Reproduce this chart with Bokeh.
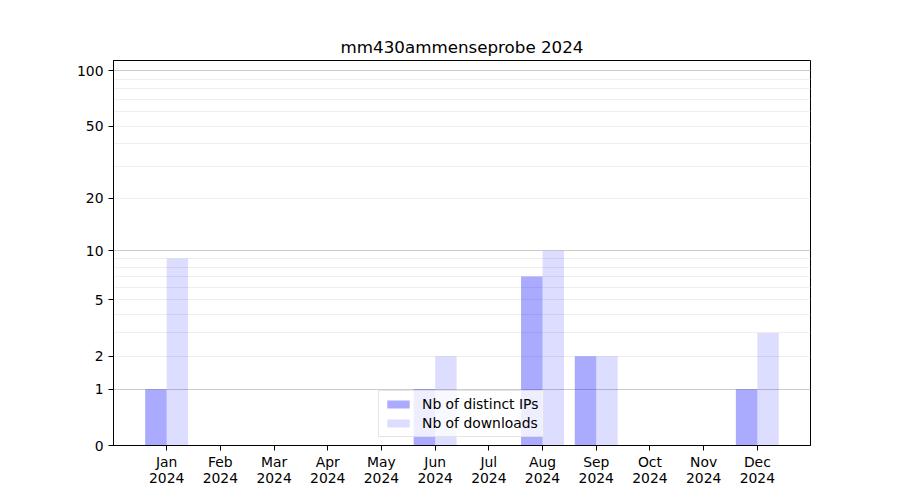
from bokeh.plotting import figure
from bokeh.models import Range1d, FixedTicker, Legend, LegendItem, ColumnDataSource, Grid
from bokeh.transform import dodge
from bokeh.embed import file_html
from bokeh.resources import INLINE

months = ["Jan", "Feb", "Mar", "Apr", "May", "Jun", "Jul", "Aug", "Sep", "Oct", "Nov", "Dec"]
year = "2024"
ips = [1, 0, 0, 0, 0, 1, 0, 7, 2, 0, 0, 1]
downloads = [9, 0, 0, 0, 0, 2, 0, 10, 2, 0, 0, 3]
y_tick_values = [0, 1, 2, 5, 10, 20, 50, 100]
y_major_grid = [1, 10, 100]
y_minor_grid = [2, 3, 4, 5, 6, 7, 8, 9, 20, 30, 40, 50, 60, 70, 80, 90]
y_max = 113.5
title = "mm430ammenseprobe 2024"

FONT = "DejaVu Sans"

# log(1 + v) scale: plot v + 1 on a log axis
idx = list(range(len(months)))
src = ColumnDataSource(dict(
    x=idx,
    ips=[v + 1 for v in ips],
    dl=[v + 1 for v in downloads],
))

p = figure(width=884, height=493, y_axis_type="log",
           x_range=Range1d(-0.99, len(months) - 0.01),
           y_range=Range1d(1, y_max + 1),
           output_backend="svg", toolbar_location=None,
           min_border_left=113, min_border_right=74,
           min_border_top=60, min_border_bottom=48)

p.title.text = title
p.title.align = "center"
p.title.text_font = FONT
p.title.text_font_size = "16.7px"
p.title.text_font_style = "normal"
p.title.text_color = "black"
p.title.standoff = 8

r1 = p.vbar(x=dodge("x", -0.2), top="ips", bottom=1, width=0.4, source=src,
            fill_color="blue", fill_alpha=0.333, line_color=None)
r2 = p.vbar(x=dodge("x", 0.2), top="dl", bottom=1, width=0.4, source=src,
            fill_color="blue", fill_alpha=0.133, line_color=None)

p.xaxis.ticker = FixedTicker(ticks=idx)
p.xaxis.major_label_overrides = {i: f"{m}\n{year}" for i, m in zip(idx, months)}
p.yaxis.ticker = FixedTicker(ticks=[v + 1 for v in y_tick_values], minor_ticks=[])
p.yaxis.major_label_overrides = {v + 1: str(v) for v in y_tick_values}

for ax in (p.xaxis, p.yaxis):
    ax.major_label_text_font = FONT
    ax.major_label_text_font_size = "13.9px"
    ax.major_label_text_color = "black"
    ax.axis_line_color = "black"
    ax.major_tick_line_color = "black"
    ax.major_tick_out = 5
    ax.major_tick_in = 0
    ax.minor_tick_line_color = None
    ax.major_label_standoff = 5
p.xaxis.major_label_standoff = 3
p.xaxis.major_label_text_line_height = 1.0

p.xgrid.grid_line_color = None
p.ygrid.grid_line_color = None
ygrid = Grid(dimension=1, ticker=FixedTicker(ticks=[v + 1 for v in y_major_grid],
                                             minor_ticks=[v + 1 for v in y_minor_grid]),
             grid_line_color="#cccccc", grid_line_width=1,
             minor_grid_line_color="#eeeeee", minor_grid_line_width=1)
p.add_layout(ygrid)

p.outline_line_color = "black"
p.outline_line_width = 1

legend = Legend(items=[LegendItem(label="Nb of distinct IPs", renderers=[r1]),
                       LegendItem(label="Nb of downloads", renderers=[r2])],
                location=(265, 8), orientation="vertical")
legend.label_text_font = FONT
legend.label_text_font_size = "13.9px"
legend.label_text_color = "black"
legend.glyph_width = 28
legend.glyph_height = 10
legend.label_height = 14
legend.label_standoff = 10
legend.spacing = 3
legend.padding = 5
legend.margin = 0
legend.border_line_color = "#cccccc"
legend.background_fill_alpha = 0.8
p.add_layout(legend, "center")

open("out.html", "w").write(file_html(p, INLINE))
